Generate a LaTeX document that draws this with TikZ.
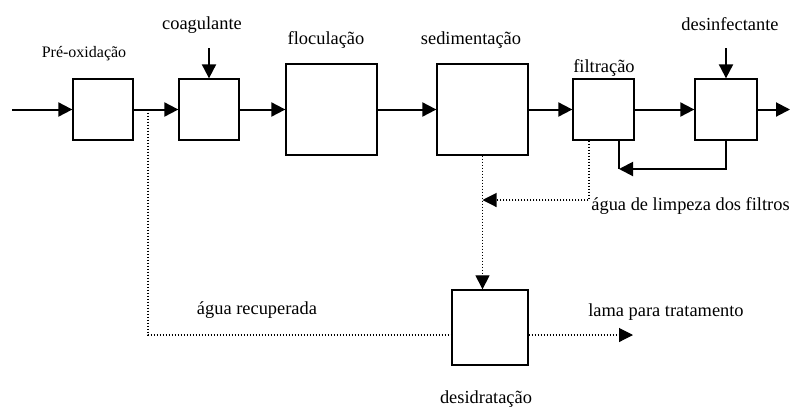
\documentclass[tikz,border=0pt]{standalone}
\usepackage{fontspec}
\setmainfont{Liberation Serif}
\usetikzlibrary{arrows.meta}
\begin{document}
\begin{tikzpicture}[x=0.5pt, y=-0.5pt,
  unit/.style={draw, line width=0.65pt, inner sep=0pt},
  flow/.style={line width=1pt, -{Triangle[length=7pt,width=7pt]}},
  sludge/.style={line width=0.55pt, dash pattern=on 0.5pt off 1pt},
  lbl/.style={font=\fontsize{9.2}{11}\selectfont, inner sep=0pt}]
  \useasboundingbox (0,0) rectangle (791,408);
  % Process units
  \node[unit, minimum width=30pt, minimum height=30.5pt] (preox) at (103,109.5) {};
  \node[unit, minimum width=30pt, minimum height=30.5pt] (coag) at (209,109.5) {};
  \node[unit, minimum width=45.5pt, minimum height=45.5pt] (floc) at (331.5,109.5) {};
  \node[unit, minimum width=45.5pt, minimum height=45.5pt] (sed) at (482.5,109.5) {};
  \node[unit, minimum width=30.5pt, minimum height=30.5pt] (filt) at (603.5,109.5) {};
  \node[unit, minimum width=31pt, minimum height=30.5pt] (desinf) at (726,109.5) {};
  \node[unit, minimum width=38pt, minimum height=37.5pt] (desid) at (490,327.5) {};
  % Labels
  \node[lbl, font=\fontsize{8}{10}\selectfont] (tpreox) at (84,54) {Pré-oxidação};
  \node[lbl] (tcoag) at (202,25) {coagulante};
  \node[lbl] (tfloc) at (326,40) {floculação};
  \node[lbl] (tsed) at (471,40) {sedimentação};
  \node[lbl] (tfilt) at (604,68) {filtração};
  \node[lbl] (tdesinf) at (730,24) {desinfectante};
  \node[lbl, anchor=west] (twash) at (591,206) {água de limpeza dos filtros};
  \node[lbl] (trec) at (257,310) {água recuperada};
  \node[lbl] (tsludge) at (666,312) {lama para tratamento};
  \node[lbl] (tdesid) at (486,399) {desidratação};
  % Free ends
  \coordinate (in) at (12,109.5);
  \coordinate (out) at (790,109.5);
  \coordinate (coagin) at (209,48);
  \coordinate (desinfin) at (726,48);
  \coordinate (back) at (619,169);
  \coordinate (wash) at (589,200);
  \coordinate (rec) at (148,335);
  \coordinate (sludgeout) at (633,335);
  % Main line
  \draw[flow] (in) -- (preox);
  \draw[flow] (preox) -- (coag);
  \draw[flow] (coag) -- (floc);
  \draw[flow] (floc) -- (sed);
  \draw[flow] (sed) -- (filt);
  \draw[flow] (filt) -- (desinf);
  \draw[flow] (desinf) -- (out);
  \draw[flow] (coagin) -- (coag);
  \draw[flow] (desinfin) -- (desinf);
  % Return to filters
  \draw[line width=1pt] (back |- filt.south) -- (back);
  \draw[flow] (desinf.south) |- (back);
  % Sludge and water lines
  \draw[sludge, -{Triangle[length=7pt,width=7pt]}] (wash |- filt.south) -- (wash) -- (sed.south |- wash);
  \draw[sludge, -{Triangle[length=7pt,width=7pt]}] (sed.south) -- (sed.south |- desid.north);
  \draw[sludge] (rec |- preox.east) -- (rec) -- (rec -| desid.west);
  \draw[sludge, -{Triangle[length=7pt,width=7pt]}] (desid.east |- sludgeout) -- (sludgeout);
\end{tikzpicture}
\end{document}
